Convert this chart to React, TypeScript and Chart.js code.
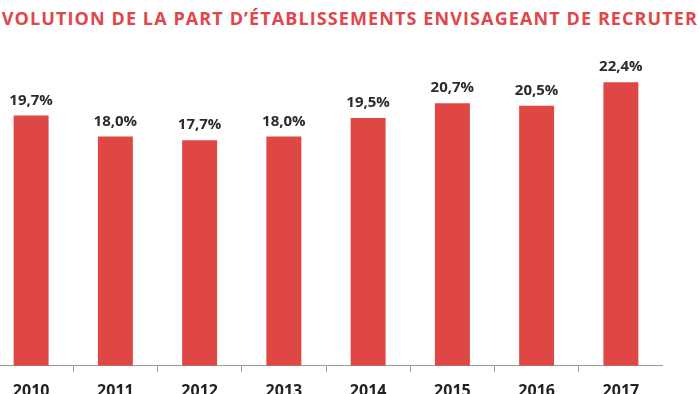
import React, { useEffect, useRef } from "react";
import { Chart, registerables } from "chart.js";

Chart.register(...registerables);

const categories = ["2010", "2011", "2012", "2013", "2014", "2015", "2016", "2017"];
const values = [19.7, 18.0, 17.7, 18.0, 19.5, 20.7, 20.5, 22.4];
const valueLabels = ["19,7%", "18,0%", "17,7%", "18,0%", "19,5%", "20,7%", "20,5%", "22,4%"];
const titleText = "ÉVOLUTION DE LA PART D’ÉTABLISSEMENTS ENVISAGEANT DE RECRUTER";

const Y_MIN = -0.53;
const Y_MAX = 25;

const labelPlugin = {
  id: "valueLabels",
  afterDatasetsDraw(chart: any) {
    const ctx = chart.ctx;
    const meta = chart.getDatasetMeta(0);
    ctx.save();
    ctx.font = "bold 15px 'Open Sans', sans-serif";
    ctx.fillStyle = "#2b2b2b";
    ctx.textAlign = "center";
    ctx.textBaseline = "alphabetic";
    meta.data.forEach((el: any, i: number) => {
      ctx.fillText(valueLabels[i], el.x, el.y - 11);
    });
    ctx.restore();
  },
};

export default function App() {
  const ref = useRef<HTMLCanvasElement | null>(null);
  useEffect(() => {
    if (!ref.current) return;
    const chart = new Chart(ref.current, {
      type: "bar",
      data: {
        labels: categories,
        datasets: [
          {
            data: values,
            backgroundColor: "#df4744",
            borderWidth: 0,
            barPercentage: 0.415,
            categoryPercentage: 1,
            base: Y_MIN,
          } as any,
        ],
      },
      options: {
        animation: false,
        responsive: false,
        devicePixelRatio: 1,
        layout: { padding: { top: 50, left: 0, right: 0, bottom: 0 } },
        plugins: { legend: { display: false }, tooltip: { enabled: false }, title: { display: false } },
        scales: {
          x: {
            offset: true,
            grid: {
              display: true,
              drawOnChartArea: false,
              drawTicks: true,
              tickLength: 6,
              color: "#9a9a9a",
              offset: true,
            },
            border: { display: true, color: "#9a9a9a", width: 1 },
            ticks: {
              color: "#222",
              font: { family: "'Open Sans', sans-serif", size: 16, weight: "bold" },
              padding: 10,
              maxRotation: 0,
            },
          },
          y: { display: false, min: Y_MIN, max: Y_MAX },
        },
      },
      plugins: [labelPlugin],
    });
    return () => chart.destroy();
  }, []);

  return (
    <div style={{ position: "fixed", left: 0, top: 0, width: 700, height: 394, overflow: "hidden", background: "#fff" }}>
      <div
        style={{
          position: "absolute",
          right: 2,
          top: 8,
          whiteSpace: "nowrap",
          fontFamily: "'Open Sans', sans-serif",
          fontWeight: 700,
          fontSize: 18,
          letterSpacing: "1.1px",
          lineHeight: "20px",
          color: "#e0464a",
        }}
      >
        {titleText}
      </div>
      <canvas ref={ref} width={674} height={411} style={{ position: "absolute", left: -11, top: 0 }} />
    </div>
  );
}
